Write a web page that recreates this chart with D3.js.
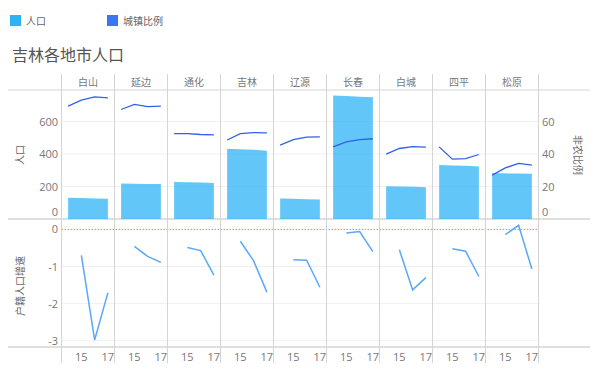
<!DOCTYPE html>
<html>
<head>
<meta charset="utf-8">
<script src="https://cdn.jsdelivr.net/npm/d3@7"></script>
<style>
  body { margin: 0; background: #fff; }
  text { font-family: "Open Sans", "Noto Sans CJK SC", sans-serif; }
  .cjk { font-family: "Noto Sans CJK SC", sans-serif; }
</style>
</head>
<body>
<div id="chart"></div>
<script>
var width = 600, height = 374

// data
var cities = ['白山', '延边', '通化', '吉林', '辽源', '长春', '白城', '四平', '松原']
var years = [2014, 2015, 2016, 2017]
var growthYears = [2015, 2016, 2017]
var tickYears = [2015, 2017]
var population = [
  [131, 129, 126, 124],
  [218, 217, 216, 215],
  [227, 226, 224, 221],
  [432, 430, 426, 420],
  [126, 124, 122, 120],
  [760, 757, 753, 749],
  [202, 200, 198, 196],
  [332, 330, 327, 323],
  [282, 281, 280, 278]
]
var urbanRatio = [
  [69.5, 73.2, 75.2, 74.6],
  [67.4, 70.5, 69.2, 69.5],
  [52.6, 52.6, 52.0, 51.8],
  [48.6, 52.6, 53.2, 53.0],
  [45.5, 48.9, 50.4, 50.6],
  [44.4, 47.5, 48.9, 49.4],
  [39.9, 43.4, 44.6, 44.2],
  [44.4, 36.8, 37.2, 39.7],
  [27.0, 31.5, 34.2, 33.2]
]
var growth = [
  [-0.70, -2.98, -1.71],
  [-0.46, -0.73, -0.89],
  [-0.49, -0.57, -1.23],
  [-0.32, -0.85, -1.69],
  [-0.82, -0.83, -1.56],
  [-0.10, -0.06, -0.60],
  [-0.55, -1.63, -1.30],
  [-0.52, -0.59, -1.27],
  [-0.14, 0.11, -1.07]
]
var popTicks = [0, 200, 400, 600]
var ratioTicks = [0, 20, 40, 60]
var growthTicks = [0, -1, -2, -3]

var plotLeft = 61.5, plotRight = 538.5
var topY0 = 90, topY1 = 219, botY0 = 219, botY1 = 347

var svg = d3.select('#chart').append('svg')
  .attr('width', width)
  .attr('height', height)

// legend
var legend = [['人口', '#2bb3f6', 10], ['城镇比例', '#3a76f4', 107]]
legend.forEach(function(l) {
  svg.append('rect').attr('x', l[2]).attr('y', 15).attr('width', 11).attr('height', 11).attr('fill', l[1])
  svg.append('text').attr('class', 'cjk').attr('x', l[2] + 16).attr('y', 24.5)
    .text(l[0]).style('font-size', '10px').style('fill', '#666')
})

svg.append('text').attr('class', 'cjk')
  .attr('x', 12).attr('y', 61)
  .text('吉林各地市人口')
  .style('font-size', '16px').style('fill', '#555')

// scales
var xBand = d3.scaleBand().domain(cities).range([plotLeft, plotRight])
var xIn = d3.scaleLinear().domain([2013.5, 2017.5]).range([0, xBand.bandwidth()])
var yPop = d3.scaleLinear().domain([0, 794]).range([topY1, topY0])
var yRatio = d3.scaleLinear().domain([0, 79.4]).range([topY1, topY0])
var yGrowth = d3.scaleLinear().domain([-3.17, 0.28]).range([botY1, botY0])

// grids
svg.append('g').selectAll('line').data(popTicks.slice(1)).enter().append('line')
  .attr('x1', plotLeft).attr('x2', plotRight)
  .attr('y1', d => yPop(d)).attr('y2', d => yPop(d))
  .style('stroke', '#f0f0f0')
svg.append('g').selectAll('line').data(growthTicks.slice(1)).enter().append('line')
  .attr('x1', plotLeft).attr('x2', plotRight)
  .attr('y1', d => yGrowth(d)).attr('y2', d => yGrowth(d))
  .style('stroke', '#f0f0f0')

// zero line
svg.append('line')
  .attr('x1', plotLeft).attr('x2', plotRight)
  .attr('y1', yGrowth(0)).attr('y2', yGrowth(0))
  .style('stroke', '#f28e2b').style('stroke-width', 1).style('stroke-dasharray', '1.5,1.5')

// frame lines
svg.append('line').attr('x1', 8).attr('x2', 590).attr('y1', topY0).attr('y2', topY0).style('stroke', '#d4d4d4')
svg.append('line').attr('x1', 8).attr('x2', 590).attr('y1', topY1).attr('y2', topY1).style('stroke', '#d4d4d4').style('stroke-width', 1.5)
svg.append('line').attr('x1', 8).attr('x2', 590).attr('y1', botY1).attr('y2', botY1).style('stroke', '#d4d4d4').style('stroke-width', 1.5)

svg.append('g').selectAll('line').data(d3.range(cities.length + 1)).enter().append('line')
  .attr('x1', d => plotLeft + d * xBand.bandwidth()).attr('x2', d => plotLeft + d * xBand.bandwidth())
  .attr('y1', 74).attr('y2', 363)
  .style('stroke', '#d4d4d4')

// column headers
svg.append('g').selectAll('text').data(cities).enter().append('text')
  .attr('class', 'cjk')
  .attr('x', d => xBand(d) + xBand.bandwidth() / 2)
  .attr('y', 86)
  .attr('text-anchor', 'middle')
  .text(d => d)
  .style('font-size', '10px').style('fill', '#777')

var area = d3.area()
  .x((d, i) => xIn(years[i]))
  .y0(yPop(0))
  .y1(d => yPop(d))
var ratioLine = d3.line()
  .x((d, i) => xIn(years[i]))
  .y(d => yRatio(d))
var growthLine = d3.line()
  .x((d, i) => xIn(growthYears[i]))
  .y(d => yGrowth(d))

cities.forEach(function(c, i) {
  var g = svg.append('g').attr('transform', `translate(${xBand(c)},0)`)
  g.append('path').attr('d', area(population[i]))
    .style('fill', '#2bb3f6').style('fill-opacity', 0.74)
  g.append('path').attr('d', ratioLine(urbanRatio[i]))
    .style('fill', 'none').style('stroke', '#2f62e8').style('stroke-width', 1.3)
  g.append('path').attr('d', growthLine(growth[i]))
    .style('fill', 'none').style('stroke', '#5aa8f8').style('stroke-width', 1.5)
  g.selectAll('.yt').data(tickYears).enter().append('text')
    .attr('x', d => xIn(d))
    .attr('y', 361)
    .attr('text-anchor', 'middle')
    .text(d => String(d).slice(2))
    .style('font-size', '11px').style('fill', '#777')
})

// axes
function styleAxis(sel) {
  sel.select('.domain').remove()
  sel.selectAll('.tick line').remove()
  sel.selectAll('text').style('font-size', '11px').style('fill', '#777')
    .style('font-family', '"Open Sans", sans-serif')
}
svg.append('g')
  .attr('transform', 'translate(58,0)')
  .call(d3.axisLeft(yPop).tickValues(popTicks).tickSize(0).tickPadding(0))
  .call(styleAxis)
  .selectAll('.tick').filter(d => d === 0).select('text').attr('dy', '-0.3em')
svg.append('g')
  .attr('transform', 'translate(542,0)')
  .call(d3.axisRight(yRatio).tickValues(ratioTicks).tickSize(0).tickPadding(0))
  .call(styleAxis)
  .selectAll('.tick').filter(d => d === 0).select('text').attr('dy', '-0.3em')
svg.append('g')
  .attr('transform', 'translate(58,0)')
  .call(d3.axisLeft(yGrowth).tickValues(growthTicks).tickSize(0).tickPadding(0)
    .tickFormat(d => String(d)))
  .call(styleAxis)

// axis titles
svg.append('text').attr('class', 'cjk')
  .attr('transform', 'translate(24,155) rotate(-90)')
  .attr('text-anchor', 'middle')
  .text('人口').style('font-size', '10px').style('fill', '#666')
svg.append('text').attr('class', 'cjk')
  .attr('transform', 'translate(24,286) rotate(-90)')
  .attr('text-anchor', 'middle')
  .text('户籍人口增速').style('font-size', '10px').style('fill', '#666')
svg.append('text').attr('class', 'cjk')
  .attr('transform', 'translate(574,155) rotate(90)')
  .attr('text-anchor', 'middle')
  .text('非农比例').style('font-size', '10px').style('fill', '#666')
</script>
</body>
</html>
